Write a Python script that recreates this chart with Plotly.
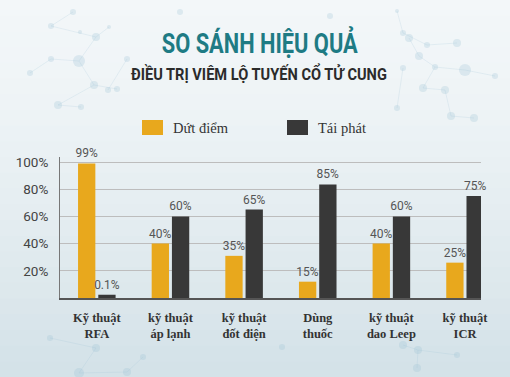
import plotly.graph_objects as go

# ---- data ----
categories = ["Kỹ thuật<br>RFA", "kỹ thuật<br>áp lạnh", "kỹ thuật<br>đốt điện",
              "Dùng<br>thuốc", "kỹ thuật<br>dao Leep", "kỹ thuật<br>ICR"]
dut_diem = [99, 40, 31, 12, 40, 26]          # bar heights as drawn
tai_phat = [2.4, 60, 65, 83.5, 60, 75]
dut_diem_labels = ["99%", "40%", "35%", "15%", "40%", "25%"]
tai_phat_labels = ["0.1%", "60%", "65%", "85%", "60%", "75%"]
y_tickvals = [20, 40, 60, 80, 100]
y_ticktext = ["20%", "40%", "60%", "80%", "100%"]
series_names = ["Dứt điểm", "Tái phát"]
title_text = "SO SÁNH HIỆU QUẢ"
subtitle_text = "ĐIỀU TRỊ VIÊM LỘ TUYẾN CỔ TỬ CUNG"

YELLOW = "#E8A81D"
DARK = "#383838"

W, H = 510, 377
L, R, T, B = 60, 29, 157, 79
PW, PH = W - L - R, H - T - B


def px(x):
    return (x - L) / PW


def py(y):
    return (H - B - y) / PH


fig = go.Figure()
for vals, labels, name, color, off in [(dut_diem, dut_diem_labels, series_names[0], YELLOW, -0.255),
                                        (tai_phat, tai_phat_labels, series_names[1], DARK, 0.02)]:
    fig.add_trace(go.Bar(x=categories, y=vals, name=name,
                         marker=dict(color=color, line=dict(width=0)),
                         width=0.235, offset=off,
                         text=labels, textposition="outside", constraintext="none",
                         textfont=dict(family="Roboto, sans-serif", size=12, color="#555"),
                         cliponaxis=False, showlegend=False))

shapes = []
annotations = []

# background: soft vertical gradient
bg_top = (243, 247, 249)
bg_bot = (212, 226, 232)
n = 24
for i in range(n):
    t = i / (n - 1)
    c = tuple(int(bg_top[k] + (bg_bot[k] - bg_top[k]) * t ** 1.4) for k in range(3))
    shapes.append(dict(type="rect", xref="paper", yref="paper", layer="below",
                       x0=px(0), x1=px(W), y0=py(H * (i + 1) / n + 1), y1=py(H * i / n),
                       fillcolor="rgb(%d,%d,%d)" % c, line=dict(width=0)))

# faint molecular network decoration
dots = [(73, 12, 3), (51, 26, 3), (96, 37, 4), (80, 32, 2), (79, 61, 6), (51, 59, 3), (30, 73, 3),
        (94, 85, 4), (117, 89, 3), (108, 90, 3), (127, 59, 3), (58, 105, 4), (81, 107, 3), (109, 27, 2),
        (397, 11, 2), (403, 33, 3), (409, 38, 4), (427, 45, 3), (457, 43, 4), (419, 56, 4),
        (435, 67, 3), (465, 70, 6), (403, 68, 3), (423, 88, 4), (445, 90, 4), (451, 116, 4),
        (474, 118, 4), (397, 108, 3), (495, 76, 3),
        (50, 338, 3), (96, 348, 4), (79, 373, 5), (127, 372, 4), (143, 357, 3), (282, 347, 3),
        (403, 345, 4), (418, 350, 4), (457, 355, 3), (417, 368, 4), (180, 12, 3), (330, 16, 3)]
links = [(0, 1), (1, 2), (2, 4), (4, 5), (4, 7), (7, 8), (5, 6), (7, 11), (10, 9), (2, 13), (11, 12),
         (14, 15), (15, 17), (17, 18), (16, 19), (19, 20), (20, 21), (20, 23), (23, 24), (24, 25),
         (25, 26), (22, 27), (21, 28),
         (29, 30), (30, 31), (31, 32), (32, 33), (35, 36), (36, 37), (36, 38)]
for a, b in links:
    x0, y0, _ = dots[a]
    x1, y1, _ = dots[b]
    shapes.append(dict(type="line", xref="paper", yref="paper", layer="below",
                       x0=px(x0), y0=py(y0), x1=px(x1), y1=py(y1),
                       line=dict(color="rgba(150,190,210,0.18)", width=1)))
for x, y, r in dots:
    shapes.append(dict(type="circle", xref="paper", yref="paper", layer="below",
                       x0=px(x - r), x1=px(x + r), y0=py(y + r), y1=py(y - r),
                       fillcolor="rgba(150,192,212,0.25)", line=dict(width=0)))

# legend (drawn manually)
shapes.append(dict(type="rect", xref="paper", yref="paper",
                   x0=px(142), x1=px(163), y0=py(135), y1=py(120),
                   fillcolor=YELLOW, line=dict(width=0)))
shapes.append(dict(type="rect", xref="paper", yref="paper",
                   x0=px(287), x1=px(308), y0=py(135), y1=py(120),
                   fillcolor=DARK, line=dict(width=0)))
annotations.append(dict(text=series_names[0], xref="paper", yref="paper",
                        x=px(171), y=py(128), xanchor="left", yanchor="middle",
                        showarrow=False,
                        font=dict(family="Liberation Serif", size=14.5, color="#333")))
annotations.append(dict(text=series_names[1], xref="paper", yref="paper",
                        x=px(316), y=py(128), xanchor="left", yanchor="middle",
                        showarrow=False,
                        font=dict(family="Liberation Serif", size=14.5, color="#333")))

# titles
annotations.append(dict(text="<b>" + title_text + "</b>", xref="paper", yref="paper",
                        x=px(260), y=py(43), xanchor="center", yanchor="middle",
                        showarrow=False,
                        font=dict(family="Roboto", size=28, color="#1E7B84")))
annotations.append(dict(text="<b>" + subtitle_text + "</b>", xref="paper", yref="paper",
                        x=px(258.5), y=py(73), xanchor="center", yanchor="middle",
                        showarrow=False,
                        font=dict(family="Roboto", size=17, color="#2b2b2b")))

fig.update_layout(
    width=W, height=H,
    margin=dict(l=L, r=R, t=T, b=B, pad=0),
    paper_bgcolor="#E8F0F3",
    plot_bgcolor="rgba(0,0,0,0)",
    shapes=shapes,
    annotations=annotations,
    barmode="group",
    xaxis=dict(range=[-0.5, 5.217], showgrid=False, zeroline=False, automargin=False,
               showline=True, linecolor="#555", linewidth=1.5,
               ticks="", ticklabelstandoff=7,
               tickfont=dict(family="Liberation Serif", size=12.5, color="#333",
                             weight="bold"),
               tickangle=0, fixedrange=True),
    yaxis=dict(range=[0, 103.7], tickvals=y_tickvals, ticktext=y_ticktext, automargin=False,
               showgrid=True, gridcolor="#BDBDBD", gridwidth=1, zeroline=False,
               showline=True, linecolor="#777", linewidth=1,
               ticks="", ticklabelstandoff=8,
               tickfont=dict(family="Roboto, sans-serif", size=13.5, color="#444"),
               fixedrange=True),
)

post = """
document.body.style.margin = '0';
document.querySelectorAll('text.annotation-text').forEach(function (t) {
  var s = t.textContent;
  var k = null;
  if (s.indexOf('SO S') === 0) { k = 0.78; }
  if (s.indexOf('TRỊ') > 0) { k = 0.86; }
  if (k !== null) {
    t.style.transformBox = 'fill-box';
    t.style.transformOrigin = 'center';
    t.style.transform = 'scaleX(' + k + ')';
  }
});
"""

fig.write_html("out.html", post_script=post, config={"displayModeBar": False})
